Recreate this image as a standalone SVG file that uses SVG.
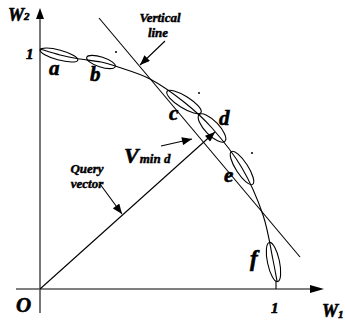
<svg xmlns="http://www.w3.org/2000/svg" width="345" height="327" viewBox="0 0 345 327">
<style>
.lbl{font-family:"Liberation Serif","Times New Roman",serif;font-weight:bold;font-style:italic;fill:#000;stroke:#000;stroke-width:0.6}
.big{font-size:21px}
.sm{font-size:13px;stroke-width:0.45}
.ax{stroke:#555;stroke-width:1.6;fill:none}
.ln{stroke:#000;stroke-width:1.1;fill:none}
.el{stroke:#000;stroke-width:1.1;fill:none}
</style>
<defs>
<marker id="ah" viewBox="0 0 10 8" refX="10" refY="4" markerWidth="11" markerHeight="8" markerUnits="userSpaceOnUse" orient="auto">
<path d="M0,0 L10,4 L0,8 Z" fill="#000"/>
</marker>
</defs>
<rect width="345" height="327" fill="#fff"/>
<g id="axes">
<line class="ax" x1="40" y1="16" x2="40" y2="313"/>
<path d="M40,8 L36,19 L44,19 Z" fill="#000"/>
<line class="ax" x1="16" y1="289" x2="312" y2="289"/>
<path d="M324,289 L310,285 L310,293 Z" fill="#000"/>
<text class="lbl" x="8" y="21" font-size="18">W<tspan font-size="11" dy="-1">2</tspan></text>
<text class="lbl" x="322" y="317" font-size="18">W<tspan font-size="11" dy="1">1</tspan></text>
<text class="lbl big" x="16" y="312">O</text>
<text class="lbl" x="26" y="59" font-size="15">1</text>
<text class="lbl" x="271" y="313" font-size="15">1</text>
</g>
<g id="connectors">
<path class="ln" d="M40,49 C43.3,50 53.3,53.3 60,55 C66.7,56.7 73.2,57.8 80,59 C86.8,60.2 94.7,60.7 101,62 C107.3,63.3 109.8,64.2 118,67 C126.2,69.8 139,73.2 150,79 C161,84.8 173.7,93.8 184,102 C194.3,110.2 202.3,117 212,128 C221.7,139 233.5,153.5 242,168 C250.5,182.5 257.8,199.7 263,215 C268.2,230.3 270.7,249 273,260 C275.3,271 276.3,277.5 277,281"/>
<line class="ln" x1="276" y1="281" x2="276" y2="289"/>
<line class="ln" x1="99" y1="18" x2="300" y2="257"/>
<line class="ln" x1="40" y1="289" x2="215" y2="132" marker-end="url(#ah)"/>
<line class="ln" x1="165" y1="41" x2="140" y2="65" marker-end="url(#ah)"/>
<line class="ln" x1="100" y1="184" x2="122" y2="214" marker-end="url(#ah)"/>
<line class="ln" x1="161" y1="146" x2="192" y2="139" marker-end="url(#ah)"/>
</g>
<g id="node-a">
<ellipse class="el" cx="59" cy="55" rx="19.5" ry="5" transform="rotate(15 59 55)"/>
<text class="lbl big" x="49" y="75">a</text>
</g>
<g id="node-b">
<ellipse class="el" cx="101" cy="62" rx="15" ry="5" transform="rotate(18 101 62)"/>
<text class="lbl big" x="90" y="81">b</text>
<circle cx="116" cy="52" r="1" fill="#000"/>
</g>
<g id="node-c">
<ellipse class="el" cx="184" cy="102" rx="20" ry="6" transform="rotate(32 184 102)"/>
<text class="lbl big" x="169" y="120">c</text>
<circle cx="199" cy="93" r="1" fill="#000"/>
</g>
<g id="node-d">
<ellipse class="el" cx="212" cy="128" rx="18.5" ry="7" transform="rotate(46 212 128)"/>
<text class="lbl big" x="219" y="125">d</text>
</g>
<g id="node-e">
<ellipse class="el" cx="242" cy="168" rx="19.5" ry="6" transform="rotate(57 242 168)"/>
<text class="lbl big" x="224" y="182">e</text>
<circle cx="252" cy="153" r="1" fill="#000"/>
</g>
<g id="node-f">
<ellipse class="el" cx="273.5" cy="262" rx="20" ry="6" transform="rotate(78 273.5 262)"/>
<text class="lbl" x="250" y="266" font-size="23">f</text>
</g>
<g id="label-vertical">
<text class="lbl sm" x="160" y="22" text-anchor="middle">Vertical</text>
<text class="lbl sm" x="158" y="37" text-anchor="middle">line</text>
</g>
<g id="label-query">
<text class="lbl sm" x="87" y="173" text-anchor="middle">Query</text>
<text class="lbl sm" x="87" y="188" text-anchor="middle">vector</text>
</g>
<g id="label-vmin">
<text class="lbl" x="124" y="163" font-size="22">V<tspan font-size="13" dx="1" stroke-width="0.45">min d</tspan></text>
</g>
</svg>
